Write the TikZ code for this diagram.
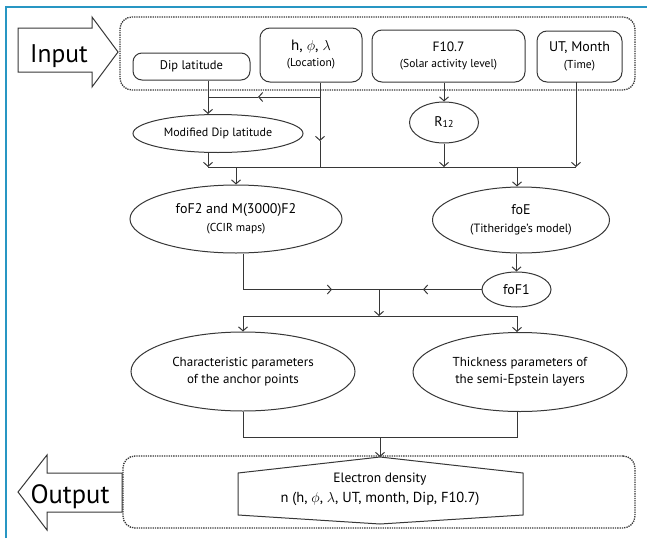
\documentclass[tikz,border=0pt]{standalone}
\usepackage{fontspec}
\setmainfont{PT Sans}
\usetikzlibrary{shapes.geometric,arrows.meta,calc}
\definecolor{lncol}{RGB}{55,55,55}
\definecolor{framecol}{RGB}{40,150,195}
\newcommand\myfs[1]{\fontsize{#1}{#1}\selectfont}
\begin{document}
\begin{tikzpicture}[x=1pt,y=-1pt,
  wire/.style={draw=lncol,line width=1pt},
  arr/.style={draw=lncol,line width=1pt,-{Straight Barb[length=4pt,width=9pt]}},
  rbox/.style={draw=lncol,line width=1pt,rounded corners=9pt,inner sep=0pt,align=center,text=black},
  ell/.style={ellipse,draw=lncol,line width=1pt,inner sep=0pt,align=center,text=black},
  dbox/.style={draw=lncol,densely dotted,line width=1.3pt,rounded corners=12pt,inner sep=0pt},
  big/.style={text=black,inner sep=0pt}]
\useasboundingbox (0,0) rectangle (647,538);
\draw[framecol,line width=1.5pt] (6,538) -- (6,7) -- (647,7);

% input area
\node[dbox,minimum width=515pt,minimum height=73pt] (inbox) at (377.5,53.5) {};
\draw[wire] (18,28) -- (92,28) -- (92,17) -- (118,52) -- (92,87) -- (92,72) -- (18,72) -- cycle;
\node[big,anchor=base] (intext) at (59,62) {\myfs{25.5}Input};

\node[rbox,minimum width=117pt,minimum height=27pt] (dip) at (191.5,66.5) {\myfs{12.5}Dip latitude};
\node[rbox,minimum width=102pt,minimum height=54pt,rounded corners=10pt] (loc) at (311,55)
  {\myfs{15}h, $\phi$, $\lambda$\\[4pt]\myfs{11.5}(Location)};
\node[rbox,minimum width=153pt,minimum height=52pt,rounded corners=10pt] (f107) at (448.5,56)
  {\myfs{13.5}F10.7\\[4pt]\myfs{11.5}(Solar activity level)};
\node[rbox,minimum width=85pt,minimum height=51pt,rounded corners=10pt] (ut) at (579.5,56.5)
  {\myfs{14}UT, Month\\[5pt]\myfs{11.5}(Time)};

\node[ell,minimum width=170pt,minimum height=38pt] (mdip) at (218,133.5) {\myfs{12}Modified Dip latitude};
\node[ell,minimum width=69pt,minimum height=41pt] (r12) at (444,122.5) {\myfs{14}R\raisebox{-1pt}{\myfs{10}12}};

\node[ell,minimum width=212pt,minimum height=68pt] (fof2) at (236,219)
  {\myfs{14}foF2 and M(3000)F2\\[6pt]\myfs{11.5}(CCIR maps)};
\node[ell,minimum width=177pt,minimum height=66pt] (foe) at (521,220)
  {\myfs{14}foE\\[6pt]\myfs{12}(Titheridge’s model)};
\node[ell,minimum width=69pt,minimum height=35pt] (fof1) at (516.5,289.5) {\myfs{14}foF1};

\node[ell,minimum width=224pt,minimum height=79pt] (char) at (243,371.5)
  {\myfs{13}Characteristic parameters\\[5pt]\myfs{13}of the anchor points};
\node[ell,minimum width=214pt,minimum height=79pt] (thick) at (520,372)
  {\myfs{13}Thickness parameters of\\[5pt]\myfs{13}the semi-Epstein layers};

% output area
\node[dbox,minimum width=512pt,minimum height=72pt] (outbox) at (379,492) {};
\draw[wire] (18,492) -- (47,455) -- (47,473) -- (122,473) -- (122,512) -- (47,512) -- (47,530) -- cycle;
\node[big,anchor=base] (outtext) at (70,503) {\myfs{26.5}Output};
\coordinate (hextop) at (380,457);
\draw[wire] (238,473) -- (hextop) -- (523,473) -- (523,515) -- (380,524) -- (238,515) -- cycle;
\node[inner sep=0pt,align=center,text=black] (ed) at (380,489)
  {\myfs{13.5}Electron density\\[6pt]\myfs{14.5}n (h, $\phi$, $\lambda$, UT, month, Dip, F10.7)};

% connectors: top
\coordinate (dipb) at ($(dip.south)+(16.5,0)$);
\coordinate (jd) at (208,97);
\coordinate (locb) at ($(loc.south)+(9,0)$);
\coordinate (jl) at (320,97);
\coordinate (ma1) at (258,97);
\coordinate (ma2) at (320,141);
\coordinate (bl) at (208,167);
\coordinate (bloc) at (320,167);
\coordinate (br) at (576,167);
\coordinate (utb) at (576,82);
\coordinate (bf2) at (236,167);
\coordinate (bfe) at (517,167);
\coordinate (bR) at (444,167);

\draw[arr] (dipb) -- (mdip.north -| dipb);
\draw[arr] (jl) -- (ma1);
\draw[wire] (ma1) -- (jd);
\draw[arr] (locb) -- (ma2);
\draw[wire] (ma2) -- (bloc);
\draw[arr] (f107.south -| r12) -- (r12.north);
\draw[arr] (r12.south) -- (bR);
\draw[arr] (mdip.south -| bl) -- (bl);
\draw[arr] (utb) -- (br);
\draw[wire] (bl) -- (br);
\draw[arr] (bf2) -- (fof2.north);
\draw[arr] (bfe) -- (foe.north -| bfe);
\draw[arr] (foe.south -| fof1) -- (fof1.north);

% middle
\coordinate (f2b) at ($(fof2.south)+(7,0)$);
\coordinate (m1) at (243,289.5);
\coordinate (ma3) at (332,289.5);
\coordinate (ma4) at (423,289.5);
\coordinate (mc) at (379,289.5);
\coordinate (mc2) at (379,316);
\coordinate (m2l) at (243,316);
\coordinate (m2r) at (517,316);
\draw[wire] (f2b) -- (m1);
\draw[arr] (m1) -- (ma3);
\draw[wire] (ma3) -- (ma4);
\draw[arr] (fof1.west) -- (ma4);
\draw[arr] (mc) -- (mc2);
\draw[wire] (m2l) -- (m2r);
\draw[arr] (m2l) -- (char.north);
\draw[arr] (m2r) -- (thick.north -| m2r);

% bottom
\coordinate (b1) at (243,437);
\coordinate (b2) at (517,437);
\coordinate (b3) at (380,437);
\draw[wire] (char.south) -- (b1) -- (b2) -- (thick.south -| b2);
\draw[arr] (b3) -- (hextop);
\end{tikzpicture}
\end{document}
